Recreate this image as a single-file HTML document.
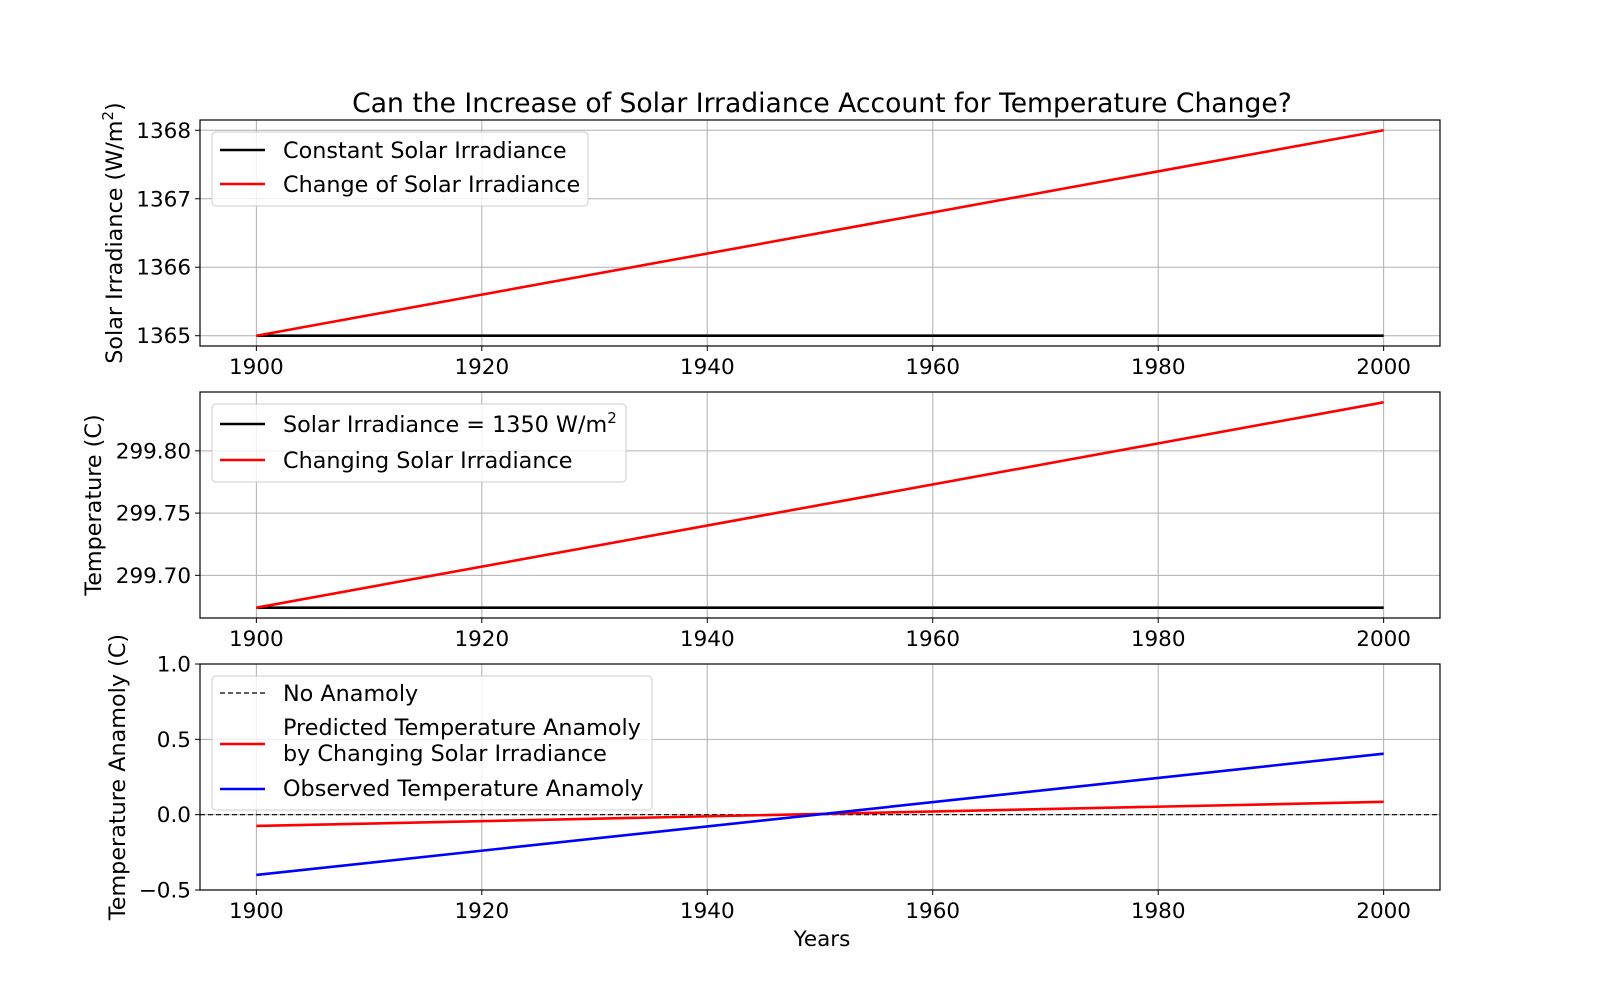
<!DOCTYPE html>
<html><head><meta charset="utf-8"><style>
body{margin:0;background:#fff}
svg{display:block;font-family:"DejaVu Sans","Liberation Sans",sans-serif}
</style></head><body>
<svg id="fig" width="1600" height="1000" xmlns="http://www.w3.org/2000/svg">
<rect width="1600" height="1000" fill="#fff"/>
<text x="822" y="112" font-size="26.6" text-anchor="middle">Can the Increase of Solar Irradiance Account for Temperature Change?</text>
<text x="822" y="946" font-size="21.5" text-anchor="middle">Years</text>
</svg>
<script>
const years=[1900,2000];
const constIrr=[1365,1365];
const changeIrr=[1365,1368];
const constTemp=[299.674,299.674];
const changeTemp=[299.674,299.839];
const noAnom=[0,0];
const predAnom=[-0.075,0.085];
const obsAnom=[-0.4,0.405];
const xTicks=[1900,1920,1940,1960,1980,2000];
const yTicks1=[1365,1366,1367,1368];
const yTicks2=[299.70,299.75,299.80];
const yTicks3=[-0.5,0.0,0.5,1.0];
const NS="http://www.w3.org/2000/svg";
const svg=document.getElementById('fig');
function mk(tag,attrs,parent){const e=document.createElementNS(NS,tag);for(const k in attrs)e.setAttribute(k,attrs[k]);(parent||svg).appendChild(e);return e;}
const L=200,R=1440;
const FS=21.5;
const xs=v=>L+(v-1895)/110*(R-L);
function panel(top,bot,ymin,ymax,yt,fmt,name){
  const ys=v=>bot-(v-ymin)/(ymax-ymin)*(bot-top);
  const g=mk('g',{});
  
  
  xTicks.forEach(t=>{
    const l=mk('line',{x1:xs(t),x2:xs(t),y1:top,y2:bot,stroke:'#b0b0b0','stroke-width':1},g);
    
    
    mk('line',{x1:xs(t),x2:xs(t),y1:bot,y2:bot+5,stroke:'#000','stroke-width':1},g);
    const tx=mk('text',{x:xs(t),y:bot+28,'font-size':FS,'text-anchor':'middle'},g);
    tx.textContent=t;
    
    
  });
  yt.forEach(t=>{
    const l=mk('line',{x1:L,x2:R,y1:ys(t),y2:ys(t),stroke:'#b0b0b0','stroke-width':1},g);
    
    
    mk('line',{x1:L-5,x2:L,y1:ys(t),y2:ys(t),stroke:'#000','stroke-width':1},g);
    const tx=mk('text',{x:L-9,y:ys(t)+7.5,'font-size':FS,'text-anchor':'end'},g);
    tx.textContent=fmt(t);
    
    
  });
  return {g,ys};
}
function line(g,ys,xv,yv,color,name,dash,w){
  const l=mk('line',{x1:xs(xv[0]),x2:xs(xv[1]),y1:ys(yv[0]),y2:ys(yv[1]),stroke:color,'stroke-width':w||2.6},g);
  if(dash)l.setAttribute('stroke-dasharray',dash);
  
  
}
function frame(g,top,bot){mk('rect',{x:L,y:top,width:R-L,height:bot-top,fill:'none',stroke:'#000','stroke-width':1.2},g);}
function legend(g,x,y,w,h,entries){
  const b=mk('rect',{x:x,y:y,width:w,height:h,rx:4,fill:'#fff','fill-opacity':0.8,stroke:'#ccc','stroke-width':1},g);
  
  
  entries.forEach(e=>{
    const l=mk('line',{x1:x+8,x2:x+53,y1:e.ly,y2:e.ly,stroke:e.c,'stroke-width':e.dash?1.2:2.6},g);
    if(e.dash)l.setAttribute('stroke-dasharray',e.dash);
    e.lines.forEach((t,i)=>{
      const tx=mk('text',{x:x+71,y:e.ty+i*26,'font-size':22.3},g);
      tx.innerHTML=t;
      
      
    });
  });
}
// panel 1
let p=panel(120,346,1364.85,1368.15,yTicks1,v=>v,'irradiance-panel');
line(p.g,p.ys,years,constIrr,'#000','constant-irradiance-line');
line(p.g,p.ys,years,changeIrr,'#f00','change-irradiance-line');
frame(p.g,120,346);
legend(p.g,212,132,376,74,[{c:'#000',ly:150,ty:158,lines:['Constant Solar Irradiance']},{c:'#f00',ly:184,ty:192,lines:['Change of Solar Irradiance']}]);
let yl=mk('text',{x:0,y:0,'font-size':22.3,'text-anchor':'middle',transform:'translate(122,233) rotate(-90)'});
yl.innerHTML='Solar Irradiance (W/m<tspan baseline-shift="super" font-size="15">2</tspan>)';


// panel 2
p=panel(392,618,299.6657,299.8473,yTicks2,v=>v.toFixed(2),'temperature-panel');
line(p.g,p.ys,years,constTemp,'#000','constant-temperature-line');
line(p.g,p.ys,years,changeTemp,'#f00','changing-temperature-line');
frame(p.g,392,618);
legend(p.g,212,404,414,78,[{c:'#000',ly:424,ty:432,lines:['Solar Irradiance = 1350 W/m<tspan baseline-shift="super" font-size="15">2</tspan>']},{c:'#f00',ly:460,ty:468,lines:['Changing Solar Irradiance']}]);
yl=mk('text',{x:0,y:0,'font-size':22.3,'text-anchor':'middle',transform:'translate(101,505) rotate(-90)'});
yl.textContent='Temperature (C)';


// panel 3
p=panel(664,890,-0.5,1.0,yTicks3,v=>(v<0?'\u2212':'')+Math.abs(v).toFixed(1),'anomaly-panel');
line(p.g,p.ys,years.map((v,i)=>i?2005:1895),noAnom,'#000','no-anomaly-line','5,3',1.2);
line(p.g,p.ys,years,predAnom,'#f00','predicted-anomaly-line');
line(p.g,p.ys,years,obsAnom,'#00f','observed-anomaly-line');
frame(p.g,664,890);
legend(p.g,212,676,440,134,[{c:'#000',dash:'5,3',ly:693,ty:701,lines:['No Anamoly']},{c:'#f00',ly:744,ty:735,lines:['Predicted Temperature Anamoly','by Changing Solar Irradiance']},{c:'#00f',ly:789,ty:796,lines:['Observed Temperature Anamoly']}]);
yl=mk('text',{x:0,y:0,'font-size':22.3,'text-anchor':'middle',transform:'translate(125,777) rotate(-90)'});
yl.textContent='Temperature Anamoly (C)';


</script>
</body></html>
